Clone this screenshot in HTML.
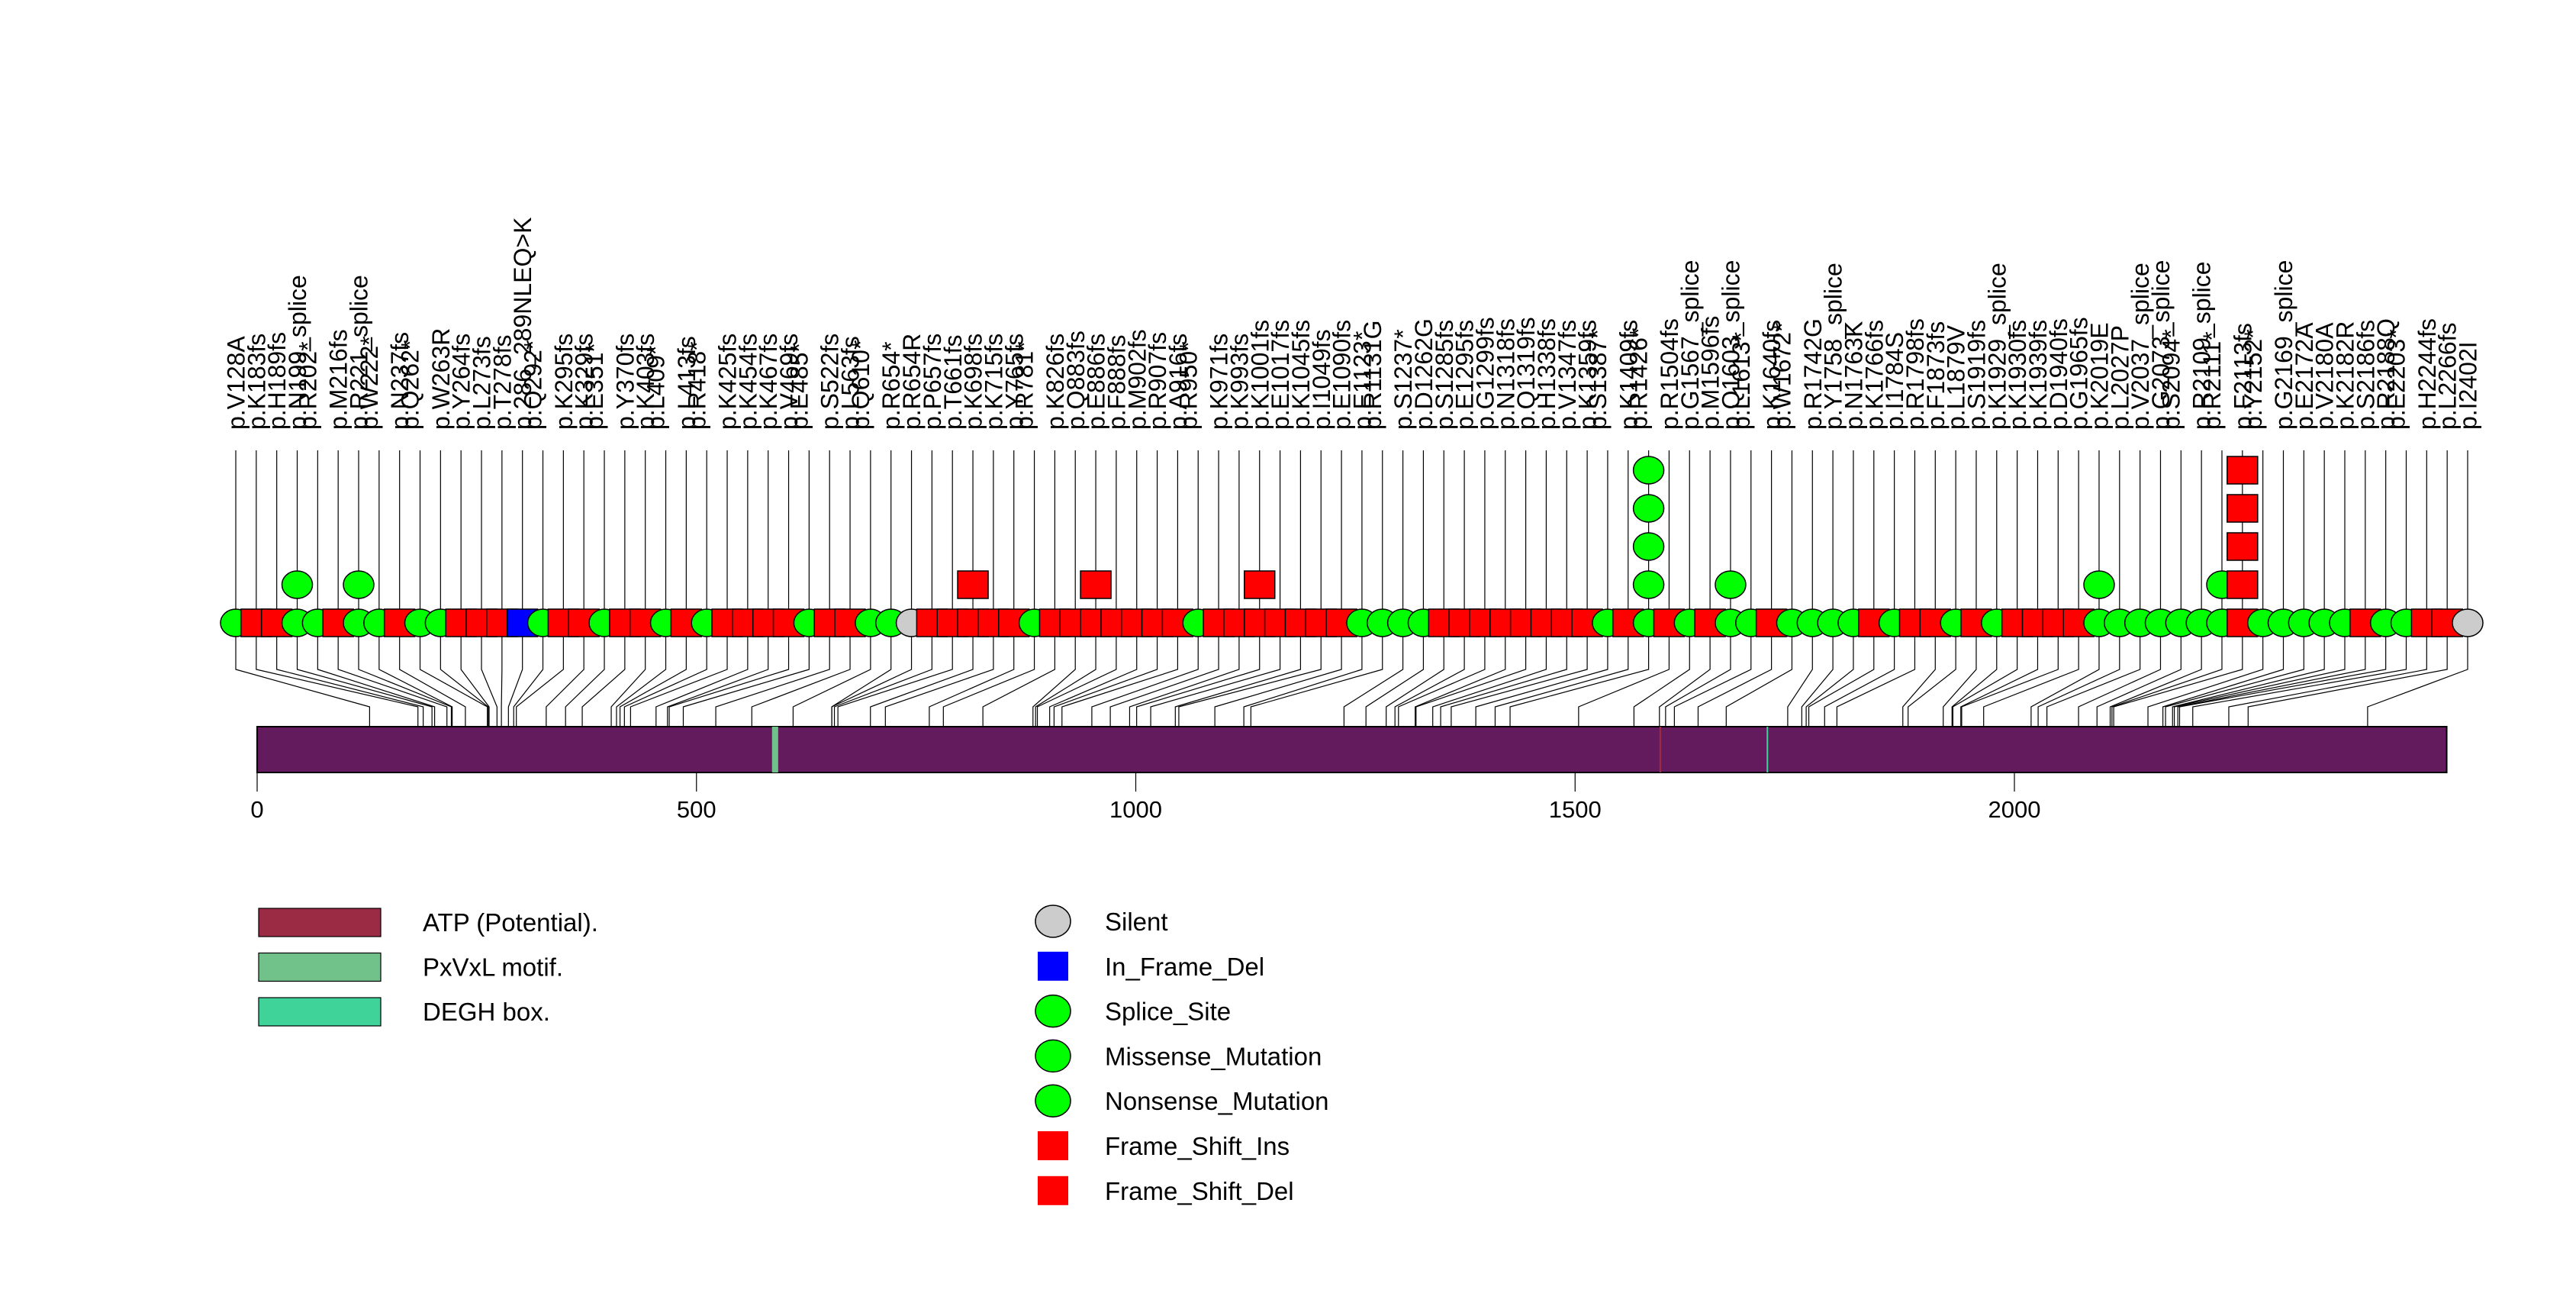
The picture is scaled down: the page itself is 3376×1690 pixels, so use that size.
<!DOCTYPE html>
<html><head><meta charset="utf-8">
<style>
html,body{margin:0;padding:0;background:#fff;}
svg{display:block;font-family:"Liberation Sans",Arial,sans-serif;}
</style></head>
<body>
<svg id="chart" width="3376" height="1690" viewBox="0 0 3376 1690" xmlns="http://www.w3.org/2000/svg">
<rect width="3376" height="1690" fill="#fff"/>
<g id="lower"></g><g id="bar"></g><g id="upper"></g><g id="marks"></g><g id="labels"></g><g id="axis"></g><g id="legend"></g>
</svg>
<script>
const labels=["p.V128A","p.K183fs","p.H189fs","p.N199_splice","p.R202*","p.M216fs","p.R221_splice","p.W222*","p.N237fs","p.Q262*","p.W263R","p.Y264fs","p.L273fs","p.T278fs","p.286_289NLEQ>K","p.Q292*","p.K295fs","p.K329fs","p.E351*","p.Y370fs","p.K403fs","p.L409*","p.L413fs","p.R418*","p.K425fs","p.K454fs","p.K467fs","p.V469fs","p.E485*","p.S522fs","p.L563fs","p.Q610*","p.R654*","p.R654R","p.P657fs","p.T661fs","p.K698fs","p.K715fs","p.Y765fs","p.R781*","p.K826fs","p.Q883fs","p.E886fs","p.F888fs","p.M902fs","p.R907fs","p.A916fs","p.R950*","p.K971fs","p.K993fs","p.K1001fs","p.E1017fs","p.K1045fs","p.I1049fs","p.E1090fs","p.E1123*","p.R1131G","p.S1237*","p.D1262G","p.S1285fs","p.E1295fs","p.G1299fs","p.N1318fs","p.Q1319fs","p.H1338fs","p.V1347fs","p.K1359fs","p.S1387*","p.K1409fs","p.R1426*","p.R1504fs","p.G1567_splice","p.M1596fs","p.Q1603_splice","p.L1613*","p.K1640fs","p.W1672*","p.R1742G","p.Y1758_splice","p.N1763K","p.K1766fs","p.I1784S","p.R1798fs","p.F1873fs","p.L1879V","p.S1919fs","p.K1929_splice","p.K1930fs","p.K1939fs","p.D1940fs","p.G1965fs","p.K2019E","p.L2027P","p.V2037_splice","p.G2073_splice","p.S2094*","p.R2109_splice","p.R2111*","p.F2113fs","p.Y2152*","p.G2169_splice","p.E2172A","p.V2180A","p.K2182R","p.S2186fs","p.R2188Q","p.E2203*","p.H2244fs","p.L2266fs","p.I2402I"];
const positions=[128,183,189,199,202,216,221,222,237,262,263,264,273,278,286,292,295,329,351,370,403,409,413,418,425,454,467,469,485,522,563,610,654,654,657,661,698,715,765,781,826,883,886,888,902,907,916,950,971,993,1001,1017,1045,1049,1090,1123,1131,1237,1262,1285,1295,1299,1318,1319,1338,1347,1359,1387,1409,1426,1504,1567,1596,1603,1613,1640,1672,1742,1758,1763,1766,1784,1798,1873,1879,1919,1929,1930,1939,1940,1965,2019,2027,2037,2073,2094,2109,2111,2113,2152,2169,2172,2180,2182,2186,2188,2203,2244,2266,2402];
const stackedIdx=[3,6,36,42,50,69,73,91,97,98];
const stackedCount=[2,2,2,2,2,5,2,2,2,5];
const pairSecond=[4,7,9,15,18,21,23,28,31,39,47,56,67,69,74,76,95,97,99,106];
const ticks=[0,500,1000,1500,2000];
const proteinLength=2492;
const domainNames=["ATP (Potential).","PxVxL motif.","DEGH box."];
const domainStart=[1596,586,1718];
const domainEnd=[1598,593,1719];
const domainColors=["#9b2a45","#71c28a","#3fd39a"];
const legendTypes=["Silent","In_Frame_Del","Splice_Site","Missense_Mutation","Nonsense_Mutation","Frame_Shift_Ins","Frame_Shift_Del"];

const NS="http://www.w3.org/2000/svg";
function mk(tag,attrs,parent){const e=document.createElementNS(NS,tag);for(const k in attrs)e.setAttribute(k,attrs[k]);parent.appendChild(e);return e;}
const aaX=v=>337+v*1.1515;
const col0=309, colEnd=3234, n=labels.length;
const colX=i=>col0+i*(colEnd-col0)/(n-1);
const rowY=816, step=50;
function typeOf(l){
  if(l.indexOf("fs")>=0) return "fs";
  if(l==="p.R654R"||l==="p.I2402I") return "silent";
  if(l.indexOf("NLEQ")>=0) return "inframe";
  return "green";
}
const colorOf={fs:"#ff0000",silent:"#cccccc",inframe:"#0000ff",green:"#00ff00"};
const G=id=>document.getElementById(id);

const barTop=952, barBot=1012;
const bar=mk("rect",{x:aaX(0),y:barTop,width:aaX(proteinLength)-aaX(0),height:barBot-barTop,fill:"#631b5d",stroke:"#000","stroke-width":2},G("bar"));


domainNames.forEach((d,i)=>{
  const r=mk("rect",{x:aaX(domainStart[i]),y:barTop,width:Math.max(2,aaX(domainEnd[i])-aaX(domainStart[i])),height:barBot-barTop,fill:domainColors[i]},G("bar"));
  
  
});

labels.forEach((l,i)=>{
  const cx=colX(i), ax=aaX(positions[i]);
  const p=mk("polyline",{points:`${cx},${rowY} ${cx},877 ${ax},926 ${ax},${barBot}`,fill:"none",stroke:"#000","stroke-width":1.2},G("lower"));
  
  
  const u=mk("line",{x1:cx,y1:590,x2:cx,y2:rowY,stroke:"#000","stroke-width":1.2},G("upper"));
  
  
});

function marker(type,x,y,parent){
  let e;
  if(type==="fs") e=mk("rect",{x:x-20,y:y-18,width:40,height:36,fill:colorOf.fs,stroke:"#000","stroke-width":1.5},parent);
  else if(type==="inframe") e=mk("rect",{x:x-20,y:y-18,width:40,height:36,fill:colorOf.inframe,stroke:"#000","stroke-width":1.5},parent);
  else e=mk("ellipse",{cx:x,cy:y,rx:20,ry:18,fill:colorOf[type],stroke:"#000","stroke-width":1.5},parent);
  return e;
}
const maxLevel=Math.max(...stackedCount);
for(let lv=0;lv<maxLevel;lv++){
  labels.forEach((l,i)=>{
    const k=stackedIdx.indexOf(i);
    const cnt=k>=0?stackedCount[k]:1;
    if(lv<cnt){
      const m=marker(typeOf(l),colX(i),rowY-lv*step,G("marks"));
      
      
    }
  });
}

labels.forEach((l,i)=>{
  const x=colX(i)-(pairSecond.indexOf(i)>=0?0.5*(colEnd-col0)/(n-1):0);
  const t=mk("text",{transform:`translate(${x},563) rotate(-90)`,dy:"0.36em","font-size":32,fill:"#000"},G("labels"));
  t.textContent=l;
  
  
});

ticks.forEach(v=>{
  const tl=mk("line",{x1:aaX(v),y1:barBot,x2:aaX(v),y2:1037,stroke:"#000","stroke-width":1.2},G("axis"));
  
  
  const tt=mk("text",{x:aaX(v),y:1071,"text-anchor":"middle","font-size":31},G("axis"));
  tt.textContent=v;
  
  
});

domainNames.forEach((d,i)=>{
  const y=1190+i*58.5;
  const r=mk("rect",{x:339,y:y,width:160,height:37,fill:domainColors[i],stroke:"#000","stroke-width":1.2},G("legend"));
  
  
  const t=mk("text",{x:554,y:y+30,"font-size":33},G("legend"));
  t.textContent=d;
  
  
});
const legendColor=["#cccccc","#0000ff","#00ff00","#00ff00","#00ff00","#ff0000","#ff0000"];
const legendShape=["c","s","c","c","c","s","s"];
legendTypes.forEach((d,i)=>{
  const y=1207+i*58.8;
  let m;
  if(legendShape[i]==="c") m=mk("ellipse",{cx:1380,cy:y,rx:23,ry:21,fill:legendColor[i],stroke:"#000","stroke-width":1.5},G("legend"));
  else m=mk("rect",{x:1360,y:y-19,width:40,height:38,fill:legendColor[i]},G("legend"));
  
  
  const t=mk("text",{x:1448,y:y+12,"font-size":33},G("legend"));
  t.textContent=d;
  
  
});
</script>
</body></html>
